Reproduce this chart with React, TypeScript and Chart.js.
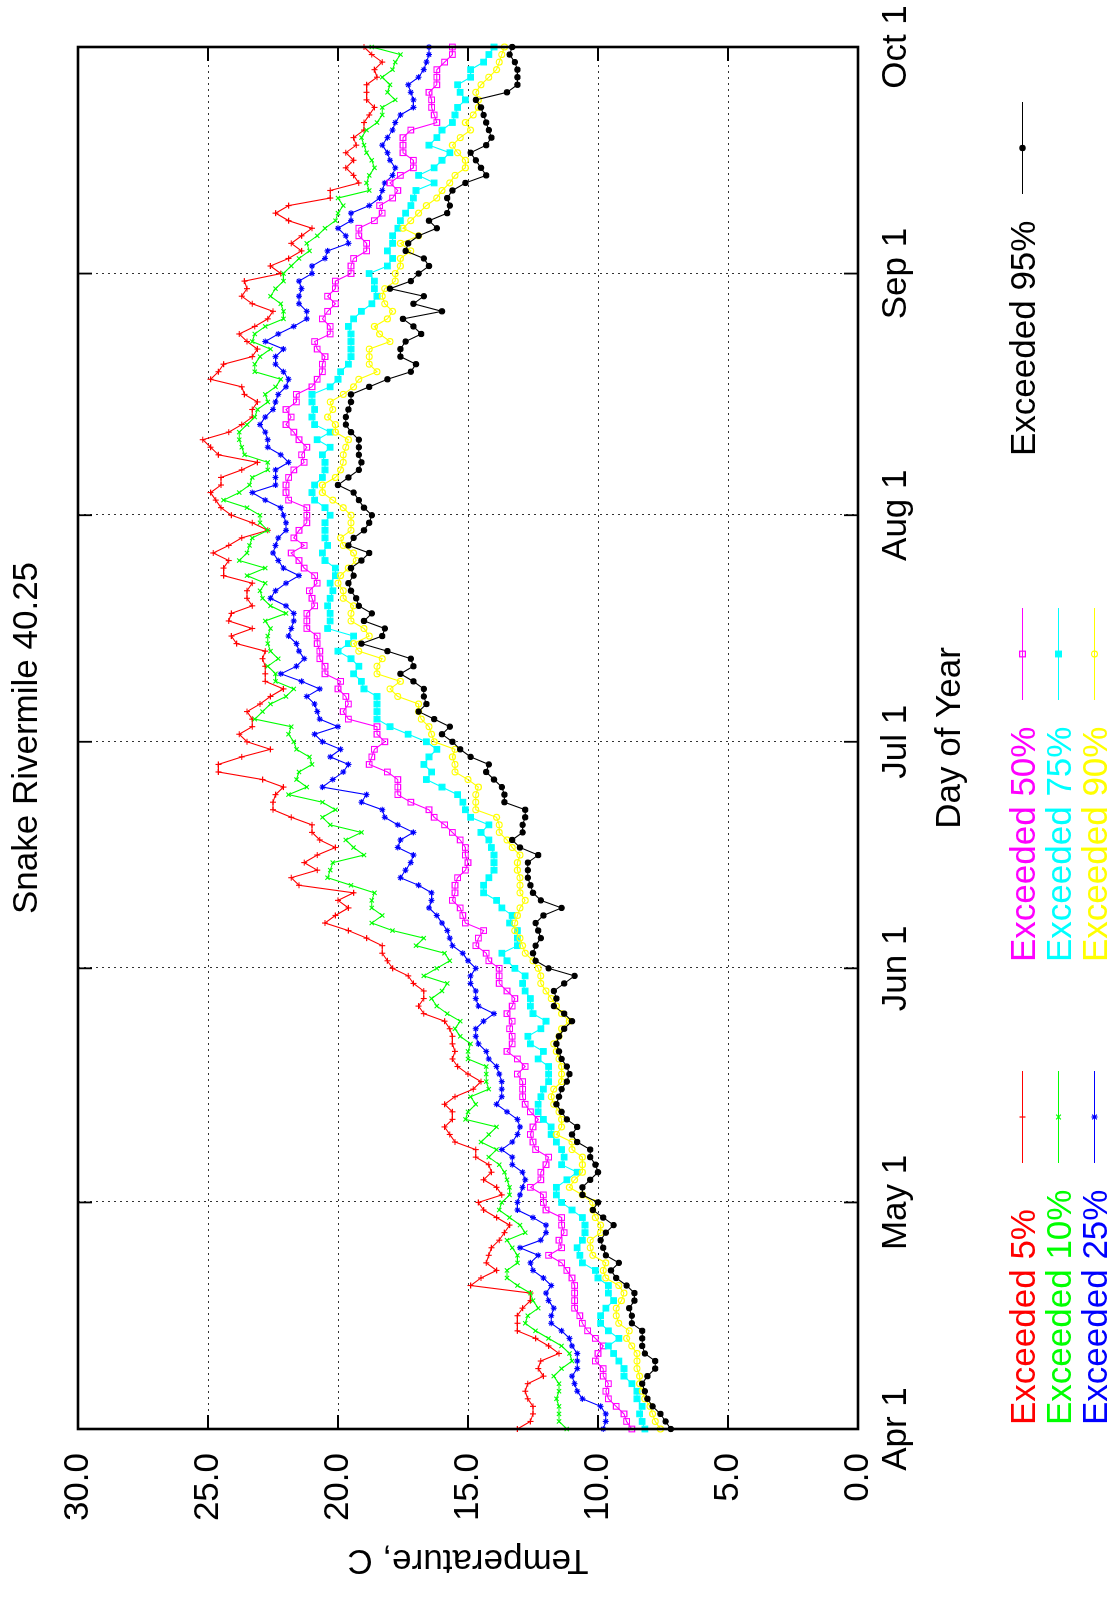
import { useEffect, useRef } from 'react';
import { Chart, registerables } from 'chart.js';

Chart.register(...registerables);

// ---------- data ----------
const TITLE = 'Snake Rivermile 40.25';
const X_TITLE = 'Day of Year';
const Y_TITLE = 'Temperature, C';

// day offsets from Apr 1 where the date ticks sit, and their labels
const X_TICK_DAYS = [0, 30, 61, 91, 121, 153, 183];
const X_TICK_LABELS = ['Apr 1', 'May 1', 'Jun 1', 'Jul 1', 'Aug 1', 'Sep 1', 'Oct 1'];
const Y_TICKS = [0, 5, 10, 15, 20, 25, 30];

const exceeded5 = [
  13.1, 12.6, 12.5, 12.5, 12.7, 12.8, 12.7, 12.1, 12.3, 12.2, 11.5, 11.9, 12.4, 13.1, 13.1, 13.1, 12.9, 12.6, 12.6, 14.9,
  14.5, 13.9, 14.3, 14.2, 14.1, 13.8, 13.6, 13.4, 13.9, 14.4, 14.6, 13.7, 13.9, 14.4, 14.1, 14.2, 14.7, 14.7, 15.5, 15.7,
  15.9, 15.6, 15.6, 15.9, 15.5, 14.8, 14.5, 15.0, 15.4, 15.6, 15.5, 15.6, 15.6, 15.7, 15.9, 16.7, 16.9, 16.7, 16.7, 17.1,
  17.3, 17.9, 18.1, 18.3, 18.3, 18.9, 19.6, 20.5, 20.1, 19.6, 20.0, 19.4, 21.5, 21.8, 20.8, 21.3, 20.8, 20.1, 20.7, 21.0,
  21.0, 21.8, 22.5, 22.5, 22.4, 22.1, 22.9, 24.6, 24.6, 23.7, 22.6, 23.5, 23.8, 23.3, 23.3, 23.5, 23.0, 22.6, 22.1, 22.8,
  22.8, 22.8, 22.9, 22.8, 23.9, 24.1, 23.3, 24.2, 24.1, 23.3, 23.5, 23.5, 23.3, 24.4, 24.4, 24.2, 24.8, 24.2, 23.7, 22.7,
  23.3, 24.1, 24.5, 24.7, 24.9, 24.5, 24.5, 23.7, 23.1, 24.6, 24.9, 25.2, 24.2, 23.7, 23.3, 23.3, 23.1, 23.6, 23.7, 24.9,
  24.6, 24.4, 23.3, 23.1, 23.5, 23.8, 23.2, 22.7, 22.5, 23.3, 23.7, 23.5, 23.6, 22.2, 22.6, 21.9, 21.4, 21.8, 21.4, 21.0,
  21.9, 22.4, 21.9, 20.3, 20.3, 19.2, 19.4, 19.7, 19.4, 19.7, 19.3, 19.4, 19.0, 19.0, 18.8, 18.6, 18.9, 18.9, 18.9, 18.5,
  18.6, 18.3, 18.7, 19.0,
];
const exceeded10 = [
  11.2, 11.5, 11.5, 11.5, 11.6, 11.5, 11.5, 11.7, 11.4, 11.0, 11.1, 11.4, 11.9, 12.4, 12.8, 12.7, 12.3, 12.5, 12.6, 13.1,
  13.5, 13.5, 13.1, 13.1, 13.3, 13.5, 12.8, 13.0, 13.4, 13.8, 13.7, 13.4, 13.4, 13.5, 13.6, 13.8, 14.2, 13.9, 14.5, 14.2,
  13.9, 15.1, 15.0, 14.7, 14.9, 14.2, 14.3, 14.3, 14.3, 15.0, 15.0, 14.9, 15.3, 15.5, 15.3, 15.8, 16.2, 16.4, 16.0, 15.8,
  16.7, 16.2, 15.7, 15.9, 17.0, 16.7, 17.9, 18.7, 18.3, 18.7, 18.7, 18.6, 19.5, 20.4, 20.3, 20.2, 19.0, 19.4, 19.7, 19.1,
  20.3, 20.6, 20.1, 20.6, 21.9, 21.2, 21.6, 21.5, 21.0, 21.1, 21.6, 21.7, 21.9, 21.8, 23.2, 22.9, 22.6, 22.0, 21.7, 22.4,
  22.4, 22.7, 22.3, 22.6, 22.7, 22.7, 22.6, 22.8, 22.0, 22.6, 22.9, 23.0, 22.8, 23.5, 22.8, 23.8, 23.5, 23.4, 23.3, 22.7,
  23.0, 23.0, 23.5, 24.4, 23.8, 23.4, 23.3, 22.7, 22.7, 23.6, 23.7, 23.8, 23.8, 23.5, 23.2, 23.1, 22.7, 22.8, 22.4, 22.2,
  23.2, 23.2, 23.0, 22.6, 23.3, 23.2, 22.8, 22.1, 22.1, 22.2, 22.6, 22.4, 22.1, 22.1, 21.8, 21.5, 21.1, 21.2, 20.8, 20.5,
  20.1, 20.0, 19.8, 20.0, 18.8, 18.9, 18.8, 18.6, 18.7, 18.9, 19.0, 19.1, 18.9, 18.5, 18.3, 18.3, 17.8, 18.1, 18.0, 18.3,
  17.9, 17.8, 17.6, 18.7,
];
const exceeded25 = [
  9.8, 9.7, 9.7, 9.9, 10.6, 10.8, 10.9, 11.0, 10.8, 10.8, 10.8, 11.0, 11.1, 11.4, 11.8, 11.8, 11.7, 11.9, 12.0, 11.8,
  12.1, 12.5, 12.6, 12.3, 13.0, 12.2, 12.0, 12.0, 12.5, 13.1, 13.1, 13.0, 12.9, 12.8, 12.9, 13.3, 13.3, 13.7, 13.3, 13.1,
  13.0, 13.1, 13.5, 13.9, 13.7, 13.7, 13.7, 13.8, 13.9, 14.2, 14.3, 14.6, 14.7, 14.7, 14.4, 14.0, 14.6, 14.7, 14.7, 14.9,
  14.9, 14.7, 15.0, 15.2, 15.6, 15.7, 15.8, 16.0, 16.2, 16.5, 16.4, 16.4, 16.9, 17.6, 17.4, 17.2, 17.1, 17.7, 17.6, 17.1,
  17.7, 18.2, 18.3, 19.1, 18.9, 20.6, 20.2, 19.8, 19.6, 20.3, 19.9, 20.6, 20.9, 20.0, 20.7, 20.8, 20.9, 21.2, 20.7, 21.4,
  22.2, 21.6, 21.3, 21.5, 21.6, 21.9, 21.8, 21.7, 21.7, 22.0, 22.6, 22.4, 22.0, 21.5, 22.1, 22.3, 22.5, 22.4, 22.3, 22.0,
  22.0, 22.1, 22.2, 22.8, 23.3, 22.4, 22.4, 22.4, 21.9, 22.2, 22.7, 22.7, 22.8, 23.0, 22.8, 22.5, 22.4, 22.3, 22.0, 21.9,
  22.1, 22.4, 22.4, 22.1, 22.8, 22.3, 21.7, 21.2, 21.2, 21.5, 21.5, 21.4, 21.5, 21.0, 21.0, 20.5, 20.4, 19.6, 19.7, 20.0,
  19.5, 19.5, 18.8, 18.4, 18.3, 18.2, 17.9, 17.8, 18.0, 18.1, 18.3, 18.1, 17.9, 17.8, 17.6, 17.1, 17.1, 17.2, 17.3, 16.9,
  16.7, 16.6, 16.5, 16.5,
];
const exceeded50 = [
  8.7, 8.9, 9.0, 9.3, 9.6, 9.7, 9.6, 9.8, 9.8, 10.1, 10.0, 9.8, 10.1, 10.4, 10.6, 10.7, 10.9, 10.9, 10.9, 10.9,
  11.0, 11.2, 11.4, 11.9, 11.4, 11.5, 11.3, 11.4, 11.4, 12.0, 12.1, 12.1, 12.6, 12.2, 12.2, 12.0, 11.9, 12.4, 12.5, 12.6,
  12.5, 12.3, 12.6, 12.8, 12.9, 12.9, 12.9, 13.1, 12.8, 13.1, 13.5, 13.3, 13.3, 13.4, 13.3, 13.5, 13.3, 13.2, 13.5, 13.8,
  13.8, 13.8, 14.2, 14.3, 14.7, 14.6, 14.4, 15.1, 15.2, 15.3, 15.6, 15.5, 15.5, 15.4, 15.1, 15.0, 15.1, 15.1, 15.3, 15.6,
  15.9, 16.3, 16.5, 17.2, 17.7, 17.7, 17.7, 18.1, 18.8, 18.7, 18.6, 18.2, 18.5, 18.5, 19.6, 19.8, 19.6, 19.7, 20.0, 19.9,
  20.5, 20.5, 20.7, 20.7, 20.8, 20.8, 21.2, 21.2, 21.2, 20.9, 21.0, 21.1, 20.8, 20.9, 21.3, 21.5, 21.8, 21.3, 21.7, 21.5,
  21.2, 21.2, 21.2, 21.9, 22.0, 22.0, 21.9, 21.7, 21.3, 21.4, 21.2, 21.5, 21.7, 22.0, 21.8, 22.0, 21.6, 21.6, 21.0, 20.8,
  20.6, 20.6, 20.5, 20.8, 20.9, 20.3, 20.3, 20.6, 20.4, 20.1, 20.4, 20.1, 20.1, 19.5, 19.5, 19.4, 18.9, 18.9, 19.2, 19.2,
  18.6, 18.3, 18.4, 17.9, 17.7, 18.0, 17.6, 17.1, 17.1, 17.5, 17.5, 17.5, 17.2, 16.2, 16.3, 16.4, 16.4, 16.5, 16.2, 16.2,
  16.2, 15.9, 15.6, 15.6,
];
const exceeded75 = [
  8.2, 8.3, 8.4, 8.3, 8.5, 8.5, 8.7, 9.0, 9.0, 9.2, 9.4, 9.6, 9.2, 9.6, 9.9, 9.9, 9.7, 9.4, 9.6, 9.6,
  10.0, 10.1, 10.6, 10.7, 10.8, 10.6, 10.5, 10.5, 10.6, 11.0, 11.4, 11.6, 11.6, 11.2, 10.8, 11.4, 11.3, 11.4, 11.6, 11.8,
  11.8, 12.1, 12.3, 12.3, 12.2, 12.1, 11.9, 11.9, 11.9, 12.3, 12.1, 12.6, 12.7, 12.2, 12.0, 12.5, 12.6, 12.6, 12.8, 12.9,
  12.8, 13.2, 13.5, 13.7, 13.1, 13.1, 13.1, 13.4, 13.3, 13.7, 13.9, 14.4, 14.4, 14.2, 14.0, 14.0, 14.0, 14.1, 14.2, 14.5,
  14.2, 14.9, 15.1, 15.2, 15.4, 16.0, 16.6, 16.4, 16.7, 16.5, 16.2, 16.6, 17.3, 18.0, 18.5, 18.5, 18.5, 18.5, 19.0, 19.1,
  19.4, 19.2, 19.5, 20.0, 19.6, 19.4, 20.4, 20.3, 20.3, 20.4, 20.3, 20.2, 20.3, 20.1, 20.1, 20.5, 20.6, 20.4, 20.5, 20.5,
  20.5, 20.3, 20.5, 20.9, 21.0, 20.9, 20.6, 20.5, 20.5, 20.6, 20.3, 20.8, 20.3, 20.9, 21.0, 20.9, 21.0, 21.0, 20.3, 20.0,
  19.9, 19.6, 19.5, 19.5, 19.5, 19.5, 19.6, 19.4, 19.1, 18.7, 18.5, 18.6, 18.6, 18.8, 18.1, 17.9, 18.1, 17.9, 17.9, 17.7,
  17.6, 17.4, 17.2, 17.1, 17.0, 16.3, 16.9, 16.3, 16.0, 15.7, 16.5, 16.2, 16.0, 15.6, 15.5, 15.4, 15.1, 15.3, 15.4, 14.9,
  14.9, 14.4, 14.2, 14.0,
];
const exceeded90 = [
  7.6, 7.8, 7.9, 8.0, 8.2, 8.3, 8.4, 8.4, 8.5, 8.5, 8.5, 8.7, 8.9, 8.8, 9.2, 9.3, 9.3, 9.1, 9.0, 9.2,
  9.7, 9.8, 9.7, 10.2, 10.3, 10.3, 9.9, 9.9, 10.1, 10.2, 10.2, 10.6, 11.1, 10.9, 10.6, 10.6, 10.6, 11.0, 11.0, 11.6,
  11.4, 11.4, 11.5, 11.7, 11.8, 11.7, 11.4, 11.4, 11.4, 11.5, 11.6, 11.7, 11.5, 11.4, 11.1, 11.4, 11.6, 11.8, 12.0, 12.2,
  12.2, 12.3, 12.5, 12.8, 12.9, 13.0, 13.2, 13.2, 13.1, 13.0, 12.8, 13.0, 13.0, 13.0, 13.1, 13.1, 13.0, 13.3, 13.5, 13.8,
  13.8, 13.9, 14.7, 14.7, 14.7, 14.6, 15.0, 15.5, 15.5, 15.6, 15.5, 16.3, 16.4, 16.5, 16.8, 16.9, 16.9, 17.7, 18.0, 17.6,
  18.5, 18.5, 18.3, 19.2, 19.4, 18.8, 19.0, 19.5, 19.5, 19.4, 19.8, 19.8, 20.0, 19.9, 19.6, 19.3, 19.4, 19.8, 19.9, 19.5,
  19.5, 19.5, 19.8, 20.2, 20.6, 20.6, 20.1, 19.9, 19.8, 19.8, 19.7, 19.6, 20.1, 20.1, 20.4, 20.2, 20.3, 19.8, 19.4, 19.2,
  18.5, 18.8, 18.8, 18.8, 18.0, 18.4, 18.6, 18.1, 17.9, 18.2, 18.3, 18.2, 17.8, 17.8, 17.6, 17.6, 17.2, 17.6, 16.9, 17.5,
  17.2, 16.9, 16.6, 16.2, 16.0, 15.7, 15.5, 15.1, 15.1, 15.4, 15.6, 15.3, 14.9, 15.1, 14.8, 14.6, 14.6, 14.7, 14.5, 14.2,
  13.9, 13.8, 13.7, 13.6,
];
const exceeded95 = [
  7.2, 7.4, 7.6, 7.9, 8.1, 8.2, 8.3, 8.1, 7.8, 7.8, 8.2, 8.3, 8.3, 8.3, 8.7, 8.7, 8.8, 8.6, 8.6, 8.9,
  9.3, 9.5, 9.2, 9.7, 9.8, 9.9, 9.7, 9.4, 9.8, 10.2, 10.0, 10.6, 10.6, 10.3, 10.0, 10.1, 10.3, 10.3, 10.8, 11.0,
  10.8, 11.2, 11.4, 11.6, 11.5, 11.4, 11.2, 11.1, 11.2, 11.4, 11.5, 11.6, 11.5, 11.3, 11.0, 11.3, 11.7, 11.6, 11.7, 11.3,
  10.9, 11.9, 12.4, 12.5, 12.4, 12.2, 12.3, 12.4, 12.1, 11.4, 12.2, 12.5, 12.6, 12.7, 12.7, 12.7, 12.3, 13.0, 13.3, 12.9,
  12.9, 12.8, 12.8, 13.6, 13.6, 13.7, 14.0, 14.3, 14.2, 14.9, 15.3, 15.6, 16.0, 15.7, 16.3, 16.9, 16.6, 16.7, 16.7, 17.1,
  17.6, 17.1, 17.2, 18.1, 19.1, 18.3, 18.2, 19.0, 18.7, 19.2, 19.3, 19.5, 19.6, 19.4, 19.5, 19.1, 18.8, 19.6, 19.4, 19.0,
  18.8, 18.7, 19.0, 19.2, 19.4, 20.0, 19.6, 19.2, 19.1, 19.2, 19.2, 19.2, 19.5, 19.7, 19.7, 19.6, 19.5, 19.5, 18.8, 18.1,
  17.2, 17.0, 17.6, 17.6, 17.4, 16.8, 17.1, 17.5, 16.0, 17.1, 16.7, 18.0, 17.2, 16.9, 16.5, 16.7, 17.4, 17.3, 16.9, 16.2,
  16.5, 15.8, 15.7, 15.8, 15.6, 15.1, 14.3, 14.5, 14.7, 14.9, 14.3, 14.1, 14.2, 14.3, 14.4, 14.5, 14.7, 13.5, 13.1, 13.1,
  13.1, 13.2, 13.4, 13.3,
];

const SERIES_LABELS = ['Exceeded 5%', 'Exceeded 10%', 'Exceeded 25%', 'Exceeded 50%', 'Exceeded 75%', 'Exceeded 90%', 'Exceeded 95%'];
const SERIES_VALUES = [exceeded5, exceeded10, exceeded25, exceeded50, exceeded75, exceeded90, exceeded95];

// ---------- styles / layout ----------
const COLORS = ['#ff0000', '#00ff00', '#0000ff', '#ff00ff', '#00ffff', '#ffff00', '#000000'];
const MARKERS = [
  { style: 'cross', radius: 3, filled: false },
  { style: 'crossRot', radius: 3, filled: false },
  { style: 'star', radius: 3, filled: false },
  { style: 'rect', radius: 4, filled: false },
  { style: 'rect', radius: 4, filled: true },
  { style: 'circle', radius: 3, filled: false },
  { style: 'circle', radius: 2.6, filled: true },
];

const W = 1606; // landscape drawing, rotated onto the 1115x1606 page
const H = 1115;
const FONT_FAMILY = '"Liberation Sans", Arial, Helvetica, sans-serif';
const FONT_SIZE = 35;

// legend layout: [column, row]
const LEGEND_COL_X = [181, 644, 1150];
const LEGEND_ROW_Y = [1022, 1058, 1094];
const LEGEND_SAMPLE_OFFSET = 308;
const LEGEND_SAMPLE_HALF = 46;
const LEGEND_POS = [[0, 0], [0, 1], [0, 2], [1, 0], [1, 1], [1, 2], [2, 0]];

function drawMarker(ctx: CanvasRenderingContext2D, i: number, x: number, y: number) {
  const m = MARKERS[i];
  const c = COLORS[i];
  const r = m.radius;
  ctx.save();
  ctx.setLineDash([]);
  ctx.strokeStyle = c;
  ctx.fillStyle = c;
  ctx.lineWidth = 1.2;
  ctx.beginPath();
  if (m.style === 'cross') {
    ctx.moveTo(x - r, y); ctx.lineTo(x + r, y); ctx.moveTo(x, y - r); ctx.lineTo(x, y + r);
    ctx.stroke();
  } else if (m.style === 'crossRot') {
    const d = r * 0.8;
    ctx.moveTo(x - d, y - d); ctx.lineTo(x + d, y + d); ctx.moveTo(x - d, y + d); ctx.lineTo(x + d, y - d);
    ctx.stroke();
  } else if (m.style === 'star') {
    const d = r * 0.8;
    ctx.moveTo(x - r, y); ctx.lineTo(x + r, y); ctx.moveTo(x, y - r); ctx.lineTo(x, y + r);
    ctx.moveTo(x - d, y - d); ctx.lineTo(x + d, y + d); ctx.moveTo(x - d, y + d); ctx.lineTo(x + d, y - d);
    ctx.stroke();
  } else if (m.style === 'rect') {
    const s = r * Math.SQRT1_2;
    ctx.rect(x - s, y - s, 2 * s, 2 * s);
    if (m.filled) ctx.fill();
    ctx.stroke();
  } else {
    ctx.arc(x, y, r, 0, Math.PI * 2);
    if (m.filled) ctx.fill();
    ctx.stroke();
  }
  ctx.restore();
}

const framePlugin = {
  id: 'gnuplotFrame',
  beforeDatasetsDraw(chart: any) {
    const { ctx, chartArea: a, scales } = chart;
    const xs = scales.x;
    const ys = scales.y;
    ctx.save();
    ctx.strokeStyle = '#333';
    ctx.lineWidth = 1;
    ctx.setLineDash([2, 4]);
    X_TICK_DAYS.forEach((d) => {
      if (d <= 0 || d >= 183) return;
      const px = Math.round(xs.getPixelForValue(d)) + 0.5;
      ctx.beginPath();
      ctx.moveTo(px, a.top);
      ctx.lineTo(px, a.bottom);
      ctx.stroke();
    });
    Y_TICKS.forEach((v) => {
      if (v <= 0 || v >= 30) return;
      const py = Math.round(ys.getPixelForValue(v)) + 0.5;
      ctx.beginPath();
      ctx.moveTo(a.left, py);
      ctx.lineTo(a.right, py);
      ctx.stroke();
    });
    ctx.restore();
  },
  afterDatasetsDraw(chart: any) {
    const { ctx, chartArea: a, scales } = chart;
    const xs = scales.x;
    const ys = scales.y;
    const TL = 14;
    ctx.save();
    ctx.setLineDash([]);
    ctx.strokeStyle = '#000';
    ctx.lineWidth = 1.8;
    X_TICK_DAYS.forEach((d) => {
      const px = xs.getPixelForValue(d);
      ctx.beginPath();
      ctx.moveTo(px, a.bottom); ctx.lineTo(px, a.bottom - TL);
      ctx.moveTo(px, a.top); ctx.lineTo(px, a.top + TL);
      ctx.stroke();
    });
    Y_TICKS.forEach((v) => {
      const py = ys.getPixelForValue(v);
      ctx.beginPath();
      ctx.moveTo(a.left, py); ctx.lineTo(a.left + TL, py);
      ctx.moveTo(a.right, py); ctx.lineTo(a.right - TL, py);
      ctx.stroke();
    });
    ctx.lineWidth = 2.6;
    ctx.strokeRect(a.left, a.top, a.right - a.left, a.bottom - a.top);
    ctx.restore();
  },
  afterDraw(chart: any) {
    const { ctx, chartArea: a } = chart;
    const cx = (a.left + a.right) / 2;
    const cy = (a.top + a.bottom) / 2;
    ctx.save();
    ctx.font = `${FONT_SIZE}px ${FONT_FAMILY}`;
    ctx.fillStyle = '#000';
    ctx.textAlign = 'center';
    ctx.textBaseline = 'alphabetic';
    ctx.fillText(TITLE, cx, 37);
    ctx.fillText(X_TITLE, cx, 960);
    ctx.save();
    ctx.translate(56, cy);
    ctx.rotate(-Math.PI / 2);
    ctx.fillText(Y_TITLE, 0, 0);
    ctx.restore();

    // legend
    ctx.textAlign = 'left';
    SERIES_LABELS.forEach((label, i) => {
      const [col, row] = LEGEND_POS[i];
      const tx = LEGEND_COL_X[col];
      const ry = LEGEND_ROW_Y[row];
      ctx.fillStyle = COLORS[i];
      ctx.fillText(label, tx, ry + 12.5);
      const sx = tx + LEGEND_SAMPLE_OFFSET;
      ctx.strokeStyle = COLORS[i];
      ctx.lineWidth = 1.2;
      ctx.setLineDash([]);
      ctx.beginPath();
      ctx.moveTo(sx - LEGEND_SAMPLE_HALF, ry + 0.5);
      ctx.lineTo(sx + LEGEND_SAMPLE_HALF, ry + 0.5);
      ctx.stroke();
      drawMarker(ctx, i, sx, ry + 0.5);
    });
    ctx.restore();
  },
};

export default function App() {
  const canvasRef = useRef<HTMLCanvasElement | null>(null);

  useEffect(() => {
    const canvas = canvasRef.current;
    if (!canvas) return;
    const datasets = SERIES_VALUES.map((vals, i) => ({
      label: SERIES_LABELS[i],
      data: vals.map((v, d) => ({ x: d, y: v })),
      borderColor: COLORS[i],
      backgroundColor: COLORS[i],
      borderWidth: 1.1,
      pointStyle: MARKERS[i].style as any,
      pointRadius: MARKERS[i].radius,
      pointBorderWidth: 1.1,
      pointBorderColor: COLORS[i],
      pointBackgroundColor: MARKERS[i].filled ? COLORS[i] : 'rgba(0,0,0,0)',
      tension: 0,
      fill: false,
      clip: false as any,
      order: SERIES_VALUES.length - 1 - i,
    }));

    const tickFont = { family: FONT_FAMILY, size: FONT_SIZE };
    const chart = new Chart(canvas, {
      type: 'line',
      data: { datasets },
      options: {
        animation: false,
        responsive: false,
        devicePixelRatio: 1,
        events: [],
        layout: { padding: { left: 0, right: 47, top: 78, bottom: 0 } },
        plugins: {
          legend: { display: false },
          tooltip: { enabled: false },
          title: { display: false },
        },
        scales: {
          x: {
            type: 'linear',
            min: 0,
            max: 183,
            grid: { display: false, drawTicks: false },
            border: { display: false },
            afterBuildTicks: (scale: any) => {
              scale.ticks = X_TICK_DAYS.map((v) => ({ value: v }));
            },
            afterFit: (scale: any) => {
              scale.height = 257;
              scale.paddingLeft = 0;
              scale.paddingRight = 0;
              scale.paddingTop = 0;
              scale.paddingBottom = 0;
            },
            ticks: {
              autoSkip: false,
              maxRotation: 0,
              minRotation: 0,
              padding: 17,
              color: '#000',
              font: tickFont,
              callback: (value: any) => {
                const k = X_TICK_DAYS.indexOf(Number(value));
                return k >= 0 ? X_TICK_LABELS[k] : '';
              },
            },
          },
          y: {
            type: 'linear',
            min: 0,
            max: 30,
            grid: { display: false, drawTicks: false },
            border: { display: false },
            afterBuildTicks: (scale: any) => {
              scale.ticks = Y_TICKS.map((v) => ({ value: v }));
            },
            afterFit: (scale: any) => {
              scale.width = 177;
              scale.paddingLeft = 0;
              scale.paddingRight = 0;
              scale.paddingTop = 0;
              scale.paddingBottom = 0;
            },
            ticks: {
              padding: 24,
              color: '#000',
              font: tickFont,
              callback: (value: any) => Number(value).toFixed(1),
            },
          },
        },
      },
      plugins: [framePlugin],
    } as any);

    return () => {
      chart.destroy();
    };
  }, []);

  return (
    <div style={{ position: 'absolute', left: 0, top: 0, width: 1115, height: 1606, overflow: 'hidden', background: '#fff' }}>
      <div
        style={{
          position: 'absolute',
          left: 0,
          top: 0,
          width: W,
          height: H,
          transformOrigin: '0 0',
          transform: `translate(0px, ${W}px) rotate(-90deg)`,
        }}
      >
        <canvas ref={canvasRef} width={W} height={H} style={{ width: W, height: H, display: 'block' }} />
      </div>
    </div>
  );
}
